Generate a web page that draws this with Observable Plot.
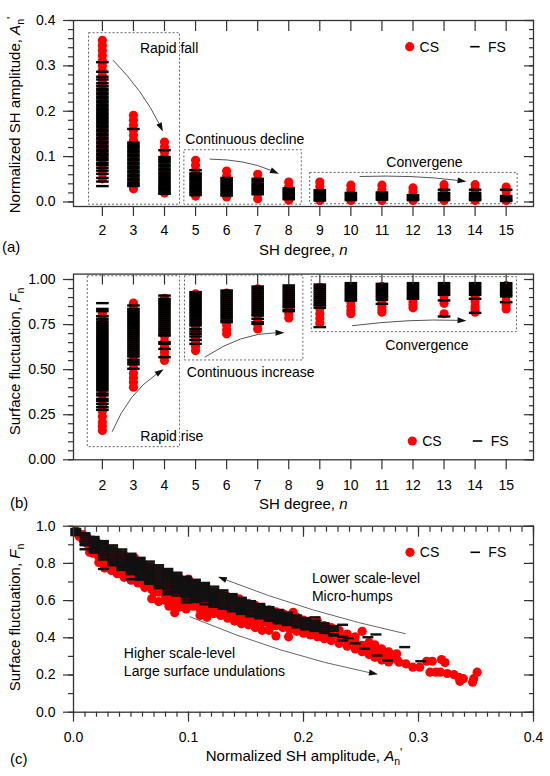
<!DOCTYPE html>
<html><head><meta charset="utf-8">
<script src="https://cdn.jsdelivr.net/npm/d3@7"></script>
<script src="https://cdn.jsdelivr.net/npm/@observablehq/plot@0.6"></script>
<style>
body{margin:0;background:#fff;}
#chart{width:550px;height:776px;background:#fff;}
#chart svg{display:block;}
</style></head><body><div id="chart"></div>
<script>
// ---------- data ----------
const degrees = [2,3,4,5,6,7,8,9,10,11,12,13,14,15];

// (a) normalized SH amplitude per degree
const csAmp = [
 [0.356,0.345,0.334,0.323,0.311,0.300,0.289,0.279,0.268,0.257,0.246,0.236,0.225,0.214,0.203,0.193,0.182,0.171,0.160,0.150,0.139,0.128,0.118,0.107,0.096,0.085,0.074,0.063,0.051],
 [0.191,0.180,0.169,0.158,0.147,0.136,0.125,0.114,0.103,0.092,0.081,0.070,0.059,0.049,0.039,0.029],
 [0.132,0.121,0.110,0.099,0.088,0.077,0.066,0.055,0.044,0.032,0.020],
 [0.092,0.081,0.070,0.059,0.048,0.036,0.024,0.013],
 [0.068,0.057,0.046,0.034,0.022,0.011],
 [0.061,0.050,0.040,0.029,0.018,0.007],
 [0.044,0.034,0.024,0.014,0.004],
 [0.044,0.034,0.024,0.013,0.003],
 [0.037,0.027,0.016,0.006,0.003],
 [0.037,0.027,0.016,0.006,0.003],
 [0.031,0.022,0.012,0.003],
 [0.038,0.028,0.017,0.006,0.003],
 [0.038,0.028,0.017,0.006,0.003],
 [0.033,0.023,0.013,0.003]
];
const fsAmp = [
 [0.308,0.287,0.276,0.270,0.262,0.256,0.250,0.246,0.241,0.237,0.232,0.228,0.223,0.219,0.214,0.210,0.205,0.201,0.196,0.192,0.187,0.183,0.178,0.174,0.169,0.165,0.160,0.156,0.151,0.147,0.142,0.138,0.133,0.129,0.124,0.120,0.115,0.111,0.106,0.102,0.097,0.092,0.086,0.081,0.075,0.069,0.062,0.053,0.045,0.035],
 [0.161,0.131,0.127,0.123,0.119,0.114,0.110,0.105,0.101,0.096,0.092,0.087,0.083,0.078,0.074,0.069,0.065,0.060,0.056,0.051,0.047,0.042,0.038,0.035],
 [0.114,0.099,0.095,0.091,0.087,0.082,0.078,0.073,0.069,0.064,0.060,0.055,0.051,0.046,0.042,0.037,0.033,0.029,0.025,0.021,0.018],
 [0.070,0.063,0.059,0.055,0.051,0.047,0.043,0.039,0.035,0.031,0.027,0.023,0.019,0.015],
 [0.053,0.049,0.045,0.041,0.037,0.033,0.029,0.025,0.021,0.017,0.014],
 [0.051,0.046,0.041,0.037,0.033,0.029,0.025,0.021,0.017],
 [0.030,0.026,0.022,0.018,0.014,0.010,0.006],
 [0.026,0.022,0.018,0.014,0.010,0.006,0.003],
 [0.020,0.016,0.012,0.008,0.004],
 [0.021,0.017,0.013,0.009,0.005],
 [0.015,0.011,0.007,0.004],
 [0.027,0.020,0.016,0.012,0.008,0.004],
 [0.027,0.020,0.015,0.011,0.007,0.004],
 [0.027,0.013,0.009,0.005,0.002]
];

// (b) surface fluctuation per degree
const csFluc = [
 [0.813,0.783,0.752,0.722,0.693,0.662,0.632,0.601,0.571,0.541,0.511,0.480,0.450,0.420,0.390,0.360,0.330,0.300,0.270,0.240,0.210,0.186,0.163],
 [0.869,0.840,0.810,0.780,0.750,0.720,0.690,0.660,0.630,0.600,0.570,0.540,0.510,0.480,0.455,0.430,0.403],
 [0.896,0.866,0.836,0.806,0.776,0.746,0.716,0.686,0.656,0.626,0.598,0.575,0.551],
 [0.920,0.890,0.860,0.830,0.800,0.770,0.740,0.710,0.680,0.655,0.630,0.606],
 [0.924,0.894,0.864,0.834,0.804,0.774,0.748,0.722,0.699],
 [0.948,0.918,0.888,0.858,0.828,0.800,0.774,0.750,0.726],
 [0.948,0.918,0.888,0.860,0.834,0.810,0.787],
 [0.957,0.927,0.897,0.867,0.838,0.810,0.784,0.758],
 [0.961,0.932,0.903,0.875,0.850,0.828,0.810],
 [0.961,0.932,0.903,0.876,0.850,0.834,0.819],
 [0.961,0.932,0.904,0.878,0.860,0.843],
 [0.962,0.935,0.908,0.885,0.868,0.810],
 [0.962,0.933,0.905,0.878,0.852,0.835,0.819],
 [0.966,0.937,0.908,0.880,0.858,0.837]
];
const fsFluc = [
 [0.869,0.837,0.824,0.797,0.782,0.768,0.757,0.746,0.735,0.724,0.713,0.702,0.691,0.680,0.669,0.658,0.647,0.636,0.625,0.614,0.603,0.592,0.581,0.570,0.559,0.548,0.537,0.526,0.515,0.504,0.493,0.482,0.471,0.460,0.449,0.438,0.427,0.416,0.405,0.394,0.384,0.368,0.357,0.338,0.326,0.310,0.292,0.277],
 [0.856,0.837,0.826,0.815,0.804,0.793,0.782,0.771,0.760,0.749,0.738,0.727,0.716,0.705,0.694,0.683,0.672,0.661,0.650,0.639,0.628,0.617,0.606,0.595,0.584,0.573,0.555,0.541,0.529,0.505],
 [0.911,0.893,0.882,0.871,0.860,0.849,0.838,0.827,0.816,0.805,0.794,0.783,0.772,0.761,0.750,0.739,0.728,0.717,0.706,0.695,0.689,0.652,0.643,0.615,0.569],
 [0.930,0.920,0.909,0.898,0.887,0.876,0.865,0.854,0.843,0.832,0.821,0.810,0.799,0.788,0.777,0.766,0.755,0.745,0.726,0.712,0.699,0.684,0.665,0.643],
 [0.939,0.928,0.917,0.906,0.895,0.884,0.873,0.862,0.851,0.840,0.829,0.818,0.807,0.796,0.785,0.773,0.763],
 [0.961,0.950,0.939,0.928,0.917,0.906,0.895,0.884,0.873,0.862,0.851,0.840,0.829,0.818,0.807,0.800,0.782,0.763,0.754],
 [0.967,0.956,0.945,0.934,0.923,0.912,0.901,0.890,0.879,0.868,0.857,0.847,0.832,0.824],
 [0.972,0.961,0.950,0.939,0.928,0.917,0.906,0.895,0.884,0.873,0.862,0.856,0.843,0.736],
 [0.980,0.969,0.958,0.947,0.936,0.925,0.914,0.903,0.892,0.883],
 [0.976,0.965,0.954,0.943,0.932,0.921,0.910,0.899,0.887,0.865],
 [0.980,0.969,0.958,0.947,0.936,0.925,0.914,0.902,0.893],
 [0.980,0.969,0.958,0.947,0.936,0.925,0.915,0.884,0.795],
 [0.980,0.969,0.958,0.947,0.936,0.925,0.915,0.893,0.815],
 [0.980,0.969,0.958,0.947,0.936,0.925,0.915,0.906,0.874]
];

// (c) amplitude vs fluctuation: [amplitude, [fluctuations...]]
const csScatter = [
 [0.002,[0.975]],[0.004,[0.96]],[0.005,[0.945]],[0.008,[0.955,0.93]],[0.012,[0.94,0.905]],[0.014,[0.86]],
 [0.017,[0.925,0.89,0.855]],[0.022,[0.905,0.87,0.835,0.805]],[0.027,[0.89,0.855,0.82,0.775]],
 [0.033,[0.87,0.835,0.80,0.762]],[0.038,[0.855,0.82,0.785,0.745]],[0.044,[0.84,0.80,0.765,0.725]],
 [0.050,[0.825,0.79,0.75,0.71]],[0.053,[0.83]],[0.056,[0.81,0.77,0.735,0.695]],[0.059,[0.708]],[0.062,[0.79,0.755,0.72,0.67]],
 [0.068,[0.775,0.74,0.70,0.66,0.61]],[0.070,[0.645]],[0.074,[0.76,0.725,0.69,0.645,0.595]],[0.080,[0.745,0.705,0.665,0.625,0.60]],
 [0.083,[0.57,0.60]],[0.086,[0.73,0.69,0.65,0.61,0.58]],[0.088,[0.535]],[0.092,[0.72,0.68,0.64,0.60,0.565]],
 [0.098,[0.705,0.665,0.625,0.585,0.555]],[0.100,[0.715]],[0.104,[0.69,0.65,0.61,0.57]],
 [0.110,[0.675,0.635,0.595,0.555,0.52]],[0.116,[0.66,0.62,0.58,0.545,0.51]],[0.122,[0.645,0.605,0.565,0.53]],
 [0.128,[0.635,0.595,0.555,0.52]],[0.131,[0.538]],[0.134,[0.62,0.58,0.54,0.505]],[0.140,[0.61,0.57,0.53,0.49]],[0.144,[0.61]],
 [0.146,[0.595,0.555,0.515,0.475]],[0.152,[0.585,0.545,0.505,0.47]],[0.158,[0.575,0.535,0.495,0.455]],
 [0.164,[0.56,0.52,0.485,0.44]],[0.170,[0.55,0.51,0.475,0.44]],[0.176,[0.54,0.50,0.465,0.41]],
 [0.182,[0.53,0.49,0.455]],[0.187,[0.405]],[0.188,[0.52,0.48,0.445]],[0.191,[0.537]],[0.194,[0.51,0.47,0.435]],
 [0.200,[0.495,0.46,0.425]],[0.206,[0.485,0.45,0.415]],[0.212,[0.49,0.44,0.405]],[0.218,[0.465,0.43,0.395]],
 [0.224,[0.455,0.42,0.385]],[0.231,[0.44,0.405,0.37]],[0.238,[0.42,0.39,0.355]],[0.245,[0.405,0.375,0.34]],
 [0.251,[0.435,0.36,0.325]],[0.257,[0.375,0.345,0.31]],[0.262,[0.362,0.33,0.295]],[0.268,[0.34,0.31,0.28]],
 [0.274,[0.325,0.295,0.27]],[0.281,[0.314,0.285]],[0.283,[0.269]],[0.289,[0.26]],[0.295,[0.242]],[0.301,[0.242]],
 [0.307,[0.274]],[0.310,[0.215]],[0.312,[0.274]],[0.315,[0.215]],[0.319,[0.215]],[0.320,[0.283]],[0.323,[0.267]],
 [0.325,[0.208]],[0.331,[0.202]],[0.335,[0.188]],[0.336,[0.166]],[0.339,[0.18]],[0.347,[0.161]],[0.348,[0.18]],[0.351,[0.215]]
];
const fsScatter = [
 [0.002,[0.985,0.974,0.963,0.952]],
 [0.010,[0.962,0.951,0.940,0.929,0.918,0.907,0.898,0.876]],
 [0.018,[0.942,0.931,0.920,0.909,0.898,0.887,0.876,0.865,0.858]],
 [0.026,[0.920,0.909,0.898,0.887,0.876,0.865,0.854,0.843,0.832,0.821,0.770]],
 [0.034,[0.897,0.886,0.875,0.864,0.853,0.842,0.831,0.820,0.809,0.798,0.790]],
 [0.042,[0.875,0.864,0.853,0.842,0.831,0.820,0.809,0.798,0.787,0.776,0.765]],
 [0.050,[0.852,0.841,0.830,0.819,0.808,0.797,0.786,0.775,0.764,0.753,0.742,0.715]],
 [0.058,[0.830,0.819,0.808,0.797,0.786,0.775,0.764,0.753,0.742,0.731,0.720,0.712]],
 [0.066,[0.810,0.799,0.788,0.777,0.766,0.755,0.744,0.733,0.722,0.711,0.700,0.690]],
 [0.074,[0.790,0.779,0.768,0.757,0.746,0.735,0.724,0.713,0.702,0.691,0.680,0.667]],
 [0.082,[0.770,0.759,0.748,0.737,0.726,0.715,0.704,0.693,0.682,0.671,0.660,0.647,0.634]],
 [0.090,[0.750,0.739,0.728,0.717,0.706,0.695,0.684,0.673,0.662,0.651,0.640,0.627]],
 [0.098,[0.728,0.717,0.706,0.695,0.684,0.673,0.662,0.651,0.640,0.629,0.618,0.605,0.590]],
 [0.106,[0.712,0.701,0.690,0.679,0.668,0.657,0.646,0.635,0.624,0.613,0.602,0.592]],
 [0.114,[0.695,0.684,0.673,0.662,0.651,0.640,0.629,0.618,0.607,0.596,0.580]],
 [0.122,[0.675,0.664,0.653,0.642,0.631,0.620,0.609,0.598,0.587,0.576,0.567]],
 [0.130,[0.655,0.644,0.633,0.622,0.611,0.600,0.589,0.578,0.567,0.556]],
 [0.138,[0.635,0.624,0.613,0.602,0.591,0.580,0.569,0.558,0.547,0.542]],
 [0.146,[0.615,0.604,0.593,0.582,0.571,0.560,0.549,0.538,0.528]],
 [0.154,[0.597,0.586,0.575,0.564,0.553,0.542,0.531,0.520,0.515]],
 [0.162,[0.582,0.571,0.560,0.549,0.538,0.527,0.516,0.505]],
 [0.170,[0.565,0.554,0.543,0.532,0.521,0.510,0.499,0.491]],
 [0.178,[0.550,0.539,0.528,0.517,0.506,0.495,0.484,0.478]],
 [0.186,[0.535,0.524,0.513,0.502,0.491,0.480,0.469]],
 [0.194,[0.520,0.509,0.498,0.487,0.476,0.465,0.456]],
 [0.202,[0.506,0.495,0.484,0.473,0.462,0.451,0.445]],
 [0.210,[0.510,0.492,0.481,0.470,0.459,0.448,0.437]],
 [0.218,[0.478,0.467,0.456,0.445,0.434,0.426]],
 [0.226,[0.462,0.450,0.438,0.420,0.412]],
 [0.234,[0.47,0.405,0.385]],[0.239,[0.398]],[0.245,[0.37]],[0.253,[0.341]],[0.256,[0.403]],
 [0.263,[0.418]],[0.264,[0.305]],[0.273,[0.278]],[0.288,[0.35]],[0.302,[0.274]]
];

// annotations
const boxesA = [{x1:1.57,x2:4.50,y1:-0.006,y2:0.372},{x1:4.64,x2:8.42,y1:-0.006,y2:0.114},{x1:8.69,x2:15.37,y1:-0.005,y2:0.064}];
const notesA = [{x:3.21,y:0.328,text:"Rapid fall",anchor:"start"},{x:4.67,y:0.127,text:"Continuous decline",anchor:"start"},{x:12.37,y:0.077,text:"Convergene",anchor:"middle"}];
const arrowsA = [{x1:2.354,y1:0.312,x2:3.965,y2:0.154,bend:0.08},{x1:5.47,y1:0.0934,x2:7.70,y2:0.061,bend:0.1},{x1:10.30,y1:0.055,x2:13.74,y2:0.044,bend:0.04}];
const boxesB = [{x1:1.53,x2:4.50,y1:0.07,y2:1.018},{x1:4.66,x2:8.47,y1:0.551,y2:1.022},{x1:8.74,x2:15.35,y1:0.708,y2:1.013}];
const notesB = [{x:3.22,y:0.107,text:"Rapid rise",anchor:"start"},{x:4.72,y:0.462,text:"Continuous increase",anchor:"start"},{x:12.45,y:0.607,text:"Convergence",anchor:"middle"}];
const arrowsB = [{x1:2.33,y1:0.153,x2:3.99,y2:0.499,bend:0.15},{x1:5.31,y1:0.566,x2:7.88,y2:0.702,bend:0.15},{x1:10.06,y1:0.741,x2:13.74,y2:0.769,bend:0.04}];
const notesC = [{x:0.2073,y:0.694,text:"Lower scale-level",anchor:"start"},{x:0.2073,y:0.60,text:"Micro-humps",anchor:"start"},{x:0.0438,y:0.29,text:"Higher scale-level",anchor:"start"},{x:0.0438,y:0.194,text:"Large surface undulations",anchor:"start"}];
const arrowsC = [{x1:0.2893,y1:0.419,x2:0.126,y2:0.726,bend:0.04},{x1:0.1015,y1:0.511,x2:0.2652,y2:0.201,bend:-0.05}];

// ---------- helpers ----------
const FONT = "'Liberation Sans', Arial, Helvetica, sans-serif";
const AX = "#333";
const RED = "#ff0000";
const dash = {draw(ctx, size){ const w = Math.sqrt(size/Math.PI); ctx.moveTo(-w,0); ctx.lineTo(w,0); }};
const byDegree = (arr) => degrees.flatMap((n,i) => arr[i].map(v => ({n, v})));
const byColumn = (cols) => cols.flatMap(([x, ys]) => ys.map(y => ({x, y})));

function axes(xMaj, xMin, yMaj, yMin, xFmt, yFmt, xPad) {
  const m = [];
  m.push(Plot.axisY({ticks: yMaj, tickSize: 10, tickPadding: 8, tickFormat: yFmt, label: null, stroke: AX, strokeWidth: 1.2, fill: "#000"}));
  m.push(Plot.axisY({ticks: yMin, tickSize: 5, fill: "none", label: null, stroke: AX, strokeWidth: 1.2}));
  m.push(Plot.axisY({anchor: "right", ticks: yMaj, tickSize: 10, dx: -10, fill: "none", label: null, stroke: AX, strokeWidth: 1.2}));
  m.push(Plot.axisY({anchor: "right", ticks: yMin, tickSize: 5, dx: -5, fill: "none", label: null, stroke: AX, strokeWidth: 1.2}));
  m.push(Plot.axisX({ticks: xMaj, tickSize: 10, tickPadding: xPad, tickFormat: xFmt, label: null, stroke: AX, strokeWidth: 1.2, fill: "#000"}));
  m.push(Plot.axisX({anchor: "top", ticks: xMaj, tickSize: 10, dy: 10, fill: "none", label: null, stroke: AX, strokeWidth: 1.2}));
  if (xMin) {
    m.push(Plot.axisX({ticks: xMin, tickSize: 5, fill: "none", label: null, stroke: AX, strokeWidth: 1.2}));
    m.push(Plot.axisX({anchor: "top", ticks: xMin, tickSize: 5, dy: 5, fill: "none", label: null, stroke: AX, strokeWidth: 1.2}));
  }
  return m;
}
function noteMarks(notes) {
  return [
    Plot.text(notes.filter(d => d.anchor === "start"), {x: "x", y: "y", text: "text", textAnchor: "start", lineAnchor: "bottom", fontSize: 14, fill: "#000"}),
    Plot.text(notes.filter(d => d.anchor === "middle"), {x: "x", y: "y", text: "text", textAnchor: "middle", lineAnchor: "bottom", fontSize: 14, fill: "#000"})
  ];
}
function drawArrows(svg, arrows, color) {
  const sx = svg.scale("x"), sy = svg.scale("y");
  const g = d3.select(svg).append("g");
  for (const a of arrows) {
    const x0 = sx.apply(a.x1), y0 = sy.apply(a.y1), x1 = sx.apply(a.x2), y1 = sy.apply(a.y2);
    const dx = x1 - x0, dy = y1 - y0;
    const cx = (x0 + x1)/2 + a.bend*dy, cy = (y0 + y1)/2 - a.bend*dx;
    const tx = x1 - cx, ty = y1 - cy, tl = Math.hypot(tx, ty);
    const ux = tx/tl, uy = ty/tl, L = 9, W = 3;
    const bx = x1 - ux*L, by = y1 - uy*L;
    g.append("path").attr("d", `M${x0},${y0}Q${cx},${cy} ${bx},${by}`).attr("fill","none").attr("stroke", color).attr("stroke-width", 1);
    g.append("path").attr("d", `M${x1},${y1}L${bx+uy*W},${by-ux*W}L${bx-uy*W},${by+ux*W}Z`).attr("fill", "#111");
  }
}
function richText(svg, x, y, parts, anchor, rotate, size) {
  const t = d3.select(svg).append("text")
    .attr("transform", `translate(${x},${y}) rotate(${rotate||0})`)
    .attr("text-anchor", anchor || "start").attr("font-size", size || 14).attr("fill", "#000");
  for (const p of parts) {
    const s = t.append("tspan").text(p.t);
    if (p.i) s.attr("font-style", "italic");
    if (p.size) s.attr("font-size", p.size);
    if (p.dy) s.attr("dy", p.dy);
    if (p.dx) s.attr("dx", p.dx);
  }
}
function legend(svg, cx, cy, base) {
  const g = d3.select(svg).append("g");
  g.append("circle").attr("cx", cx).attr("cy", cy).attr("r", 4.6).attr("fill", RED);
  g.append("text").attr("x", cx + 19.6).attr("y", base).attr("font-size", 14).text("CS");
  g.append("line").attr("x1", cx + 60.5).attr("x2", cx + 70).attr("y1", cy).attr("y2", cy).attr("stroke", "#000").attr("stroke-width", 1.6);
  g.append("text").attr("x", cx + 87.3).attr("y", base).attr("font-size", 14).text("FS");
}
const style = {fontFamily: FONT, fontSize: "14px", background: "white", color: "black", overflow: "visible"};
const ampTitle = [{t:"Normalized SH amplitude, "},{t:"A", i:true},{t:"n", size:10.5, dy:4},{t:"'", size:12, dy:-8}];
const flucTitle = [{t:"Surface fluctuation, "},{t:"F", i:true},{t:"n", size:10.5, dy:4}];
const degTitle = [{t:"SH degree, "},{t:"n", i:true}];
const chart = document.getElementById("chart");

// ---------- panel (a) ----------
const pa = Plot.plot({
  width: 550, height: 258, marginLeft: 73, marginRight: 17, marginTop: 20, marginBottom: 52, style,
  x: {domain: [1.07, 15.88]}, y: {domain: [-0.01, 0.4]},
  marks: [
    Plot.rect(boxesA, {x1:"x1", x2:"x2", y1:"y1", y2:"y2", fill:"none", stroke:"#666", strokeWidth:1, strokeDasharray:"2,2"}),
    Plot.dot(byDegree(csAmp), {x:"n", y:"v", r:4.6, fill:RED, stroke:"none"}),
    Plot.dot(byDegree(fsAmp), {x:"n", y:"v", r:6.3, symbol:dash, fill:"none", stroke:"#000", strokeWidth:2.4}),
    ...noteMarks(notesA),
    Plot.frame({stroke: AX, strokeWidth: 1.3}),
    ...axes(degrees, null, [0,0.1,0.2,0.3,0.4], d3.range(0, 0.401, 0.02), d3.format("d"), d3.format(".1f"), 9)
  ]
});
chart.appendChild(pa);
drawArrows(pa, arrowsA, "#555");
richText(pa, 20, 115, ampTitle, "middle", -90, 15);
richText(pa, 303.3, 255, degTitle, "middle", 0, 15);
richText(pa, 2, 252, [{t:"(a)"}], "start", 0, 15);
legend(pa, 409.7, 46.7, 51.7);

// ---------- panel (b) ----------
const pb = Plot.plot({
  width: 550, height: 257, marginLeft: 73, marginRight: 17, marginTop: 15.6, marginBottom: 55.7, style,
  x: {domain: [1.07, 15.88]}, y: {domain: [0, 1.03]},
  marks: [
    Plot.rect(boxesB, {x1:"x1", x2:"x2", y1:"y1", y2:"y2", fill:"none", stroke:"#666", strokeWidth:1, strokeDasharray:"2,2"}),
    Plot.dot(byDegree(csFluc), {x:"n", y:"v", r:4.6, fill:RED, stroke:"none"}),
    Plot.dot(byDegree(fsFluc), {x:"n", y:"v", r:6.3, symbol:dash, fill:"none", stroke:"#000", strokeWidth:2.4}),
    ...noteMarks(notesB),
    Plot.frame({stroke: AX, strokeWidth: 1.3}),
    ...axes(degrees, null, [0,0.25,0.5,0.75,1], d3.range(0, 1.001, 0.05), d3.format("d"), d3.format(".2f"), 10)
  ]
});
chart.appendChild(pb);
drawArrows(pb, arrowsB, "#555");
richText(pb, 20, 103.5, flucTitle, "middle", -90, 15);
richText(pb, 303.3, 251, degTitle, "middle", 0, 15);
richText(pb, 10, 250, [{t:"(b)"}], "start", 0, 15);
legend(pb, 412.3, 183, 187.7);

// ---------- panel (c) ----------
const pc = Plot.plot({
  width: 550, height: 261, marginLeft: 73, marginRight: 17, marginTop: 10.7, marginBottom: 64.3, style,
  x: {domain: [0, 0.4]}, y: {domain: [0, 1]},
  marks: [
    Plot.dot(byColumn(csScatter), {x:"x", y:"y", r:4.6, fill:RED, stroke:"none"}),
    Plot.dot(byColumn(fsScatter), {x:"x", y:"y", r:5.5, symbol:dash, fill:"none", stroke:"#111", strokeWidth:2.4}),
    ...noteMarks(notesC),
    Plot.frame({stroke: AX, strokeWidth: 1.3}),
    ...axes([0,0.1,0.2,0.3,0.4], d3.range(0, 0.401, 0.01), [0,0.2,0.4,0.6,0.8,1], d3.range(0, 1.001, 0.1), d3.format(".1f"), d3.format(".1f"), 10)
  ]
});
chart.appendChild(pc);
drawArrows(pc, arrowsC, "#666");
richText(pc, 20, 102.5, flucTitle, "middle", -90, 15);
richText(pc, 304, 246, ampTitle, "middle", 0, 15);
richText(pc, 10, 248.5, [{t:"(c)"}], "start", 0, 15);
legend(pc, 410, 37.3, 41.7);
</script></body></html>
